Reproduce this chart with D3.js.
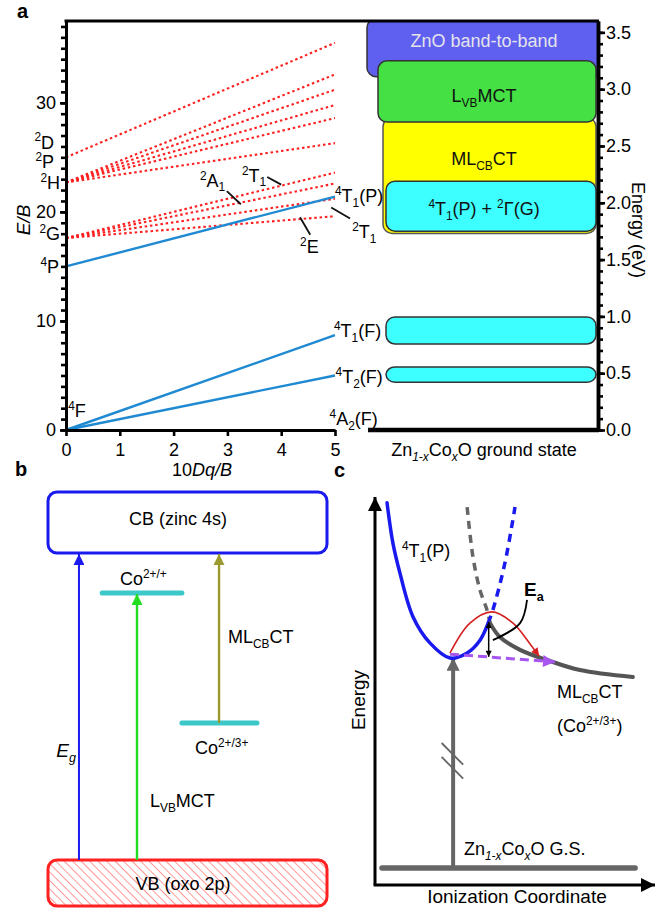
<!DOCTYPE html>
<html>
<head>
<meta charset="utf-8">
<script src="https://cdn.jsdelivr.net/npm/d3@7"></script>
<style>
  html, body { margin: 0; padding: 0; background: #fff; }
  svg text { font-family: "Liberation Sans", Arial, Helvetica, sans-serif; }
</style>
</head>
<body>
<svg id="fig" width="658" height="909"></svg>
<script>
// ---------- panel a : Tanabe-Sugano style diagram ----------
var dqRange = [0, 5];
// quartet states (blue, solid), E/B at 10Dq/B = 0 and 5
var quartetLines = [[15.0, 21.4], [0, 8.7], [0, 5.0]];
// doublet states (red, dotted)
var doubletLines = [
    [25.0, 35.5], [22.7, 32.6], [22.7, 31.2], [22.7, 29.8], [22.7, 28.6],
    [22.7, 26.3], [17.6, 23.6], [17.6, 22.6], [17.6, 21.2], [17.6, 19.6]
];
var freeIonTerms = ["^{4}P", "^{2}G", "^{2}H", "^{2}P", "^{2}D"];
var freeIonEnergies = [15.0, 18.0, 22.7, 24.6, 26.4];
var yTicksEB = [0, 10, 20, 30];
var xTicksDq = [0, 1, 2, 3, 4, 5];

// right side: absorption bands in eV
var bandNames = ["ZnO band-to-band", "L_{VB}MCT", "ML_{CB}CT", "^{4}T_{1}(P) + ^{2}\u0393(G)", "", ""];
var bandLow = [3.11, 2.71, 1.73, 1.75, 0.757, 0.42];
var bandHigh = [3.62, 3.25, 2.75, 2.19, 0.995, 0.555];
var bandColors = ["#5f5ff0", "#44e044", "#ffff00", "#3dffff", "#3dffff", "#3dffff"];
var energyTicks = [0, 0.5, 1.0, 1.5, 2.0, 2.5, 3.0, 3.5];

// ---------- panel b : energy levels ----------
var levelNames = ["Co^{2+/+}", "Co^{2+/3+}"];
var levelEnergies = [87, 44.6];          // relative: VB top = 0, CB bottom = 100
var transitionNames = ["*{E}_*{g}", "L_{VB}MCT", "ML_{CB}CT"];
var transitionFrom = [0, 0, 44.6];
var transitionTo = [100, 87, 100];

// ---------- panel c : configuration coordinate sketch ----------
var curveT1P = [[4.3, 98.5], [6.4, 88.1], [8.9, 80.4], [13.6, 69.1], [19.6, 62.4], [26.8, 58.5],
                [32.9, 59.8], [37.5, 63.1], [40.4, 67.5]];
var curveT1PDashed = [[40.4, 67.5], [42.1, 70.9], [46.4, 83.0], [50.0, 97.4]];
var curveCTDashed = [[32.9, 97.4], [35.0, 84.5], [37.5, 76.0], [40.0, 70.9], [41.1, 67.5]];
var curveCT = [[41.1, 67.5], [44.6, 63.9], [51.8, 60.6], [61.4, 58.0], [73.2, 55.4], [92.1, 53.6]];
var hopPath = [[26.8, 59.8], [33.9, 67.5], [41.8, 70.4], [49.3, 67.5], [55.5, 62.0], [58.6, 59.0]];
var tunnelPath = [[26.8, 59.5], [64.3, 57.5]];
var barrier = [[40.6, 67.8], [40.6, 58.8]];
var eaLeader = [[54.3, 73.5], [51.8, 67.5], [42.1, 63.1]];
var breakMarks = [[[23.8, 36.6], [31.5, 31.0]], [[23.8, 33.0], [31.5, 27.4]]];
var groundState = [[2.5, 4.4], [92.9, 4.4]];
var excitation = [[27.9, 4.4], [27.9, 58.6]];

var svg = d3.select("#fig");
var defs = svg.append("defs");

// small markup: ^{sup} _{sub} _*{italic sub} *{italic}
function rich(sel, str, size) {
    var t = sel.append("text").attr("font-size", size);
    var re = /(\^|_\*|_|\*)\{([^}]*)\}|([^\^_*]+)/g, m, shift = 0;
    while ((m = re.exec(str))) {
        var ts = t.append("tspan"), target = 0;
        if (m[3]) {
            ts.text(m[3]);
        } else {
            ts.text(m[2]);
            if (m[1] === "*") {
                ts.attr("font-style", "italic");
            } else {
                ts.attr("font-size", size * 0.66);
                target = m[1] === "^" ? -size * 0.4 : size * 0.25;
                if (m[1] === "_*") ts.attr("font-style", "italic");
            }
        }
        if (target - shift !== 0) ts.attr("dy", target - shift);
        shift = target;
    }
    return t;
}

function marker(id, color, w, h, orient) {
    defs.append("marker")
        .attr("id", id)
        .attr("viewBox", "0 0 10 10")
        .attr("refX", 10).attr("refY", 5)
        .attr("markerUnits", "userSpaceOnUse")
        .attr("markerWidth", w).attr("markerHeight", h)
        .attr("orient", orient || "auto")
        .append("path").attr("d", "M0,0L10,5L0,10z").attr("fill", color);
}
marker("arBlue", "#1a1aee", 11, 11);
marker("arGreen", "#22dd22", 11, 11);
marker("arOlive", "#9a9a30", 11, 11);
marker("arBlack", "#000", 17, 14);
marker("arGray", "#666", 14, 13);
marker("arRed", "#d42020", 10, 8);
marker("arPurple", "#a855f0", 18, 12);
marker("arSmall", "#000", 7, 6, "auto-start-reverse");

function styleAxis(g, lw) {
    g.attr("font-size", 18).attr("font-family", null);
    g.select(".domain").attr("stroke-width", lw);
    g.selectAll(".tick line").attr("stroke-width", 2.6);
    g.selectAll(".tick text").attr("fill", "#000");
}

// ================= panel a =================
var xA = d3.scaleLinear().domain(dqRange).range([66, 335]);
var yA = d3.scaleLinear().domain([0, 37.5]).range([430, 21]);
var yE = d3.scaleLinear().domain([0, 3.6]).range([430, 21]);
var gA = svg.append("g");

var lineA = d3.line().x(function (d, i) { return xA(dqRange[i]); }).y(function (d) { return yA(d); });

gA.selectAll(".doublet").data(doubletLines).join("path")
    .attr("class", "doublet")
    .attr("d", lineA)
    .attr("fill", "none").attr("stroke", "#ff1f1f")
    .attr("stroke-width", 2.1).attr("stroke-dasharray", "2.5,2.8");

gA.selectAll(".quartet").data(quartetLines).join("path")
    .attr("class", "quartet")
    .attr("d", lineA)
    .attr("fill", "none").attr("stroke", "#1f8ad2").attr("stroke-width", 2.4);

// band boxes
var bandLeft = [367, 378, 383, 386, 386, 386];
var bandRight = [610, 596, 596, 596, 596, 596];
defs.append("clipPath").attr("id", "clipR")
    .append("rect").attr("x", 300).attr("y", 21).attr("width", 297).attr("height", 420);
var gB = gA.append("g").attr("clip-path", "url(#clipR)");
var drawOrder = [0, 2, 1, 3, 4, 5];
drawOrder.forEach(function (i) {
    gB.append("rect")
        .attr("x", bandLeft[i]).attr("y", yE(bandHigh[i]))
        .attr("width", bandRight[i] - bandLeft[i])
        .attr("height", yE(bandLow[i]) - yE(bandHigh[i]))
        .attr("rx", 9)
        .attr("fill", bandColors[i])
        .attr("stroke", i === 2 ? "#555" : "#333").attr("stroke-width", 1.5);
});
var bandTextY = [47, 102, 165, 215];
[0, 1, 2, 3].forEach(function (i) {
    rich(gA, bandNames[i], 18)
        .attr("x", 484).attr("y", bandTextY[i])
        .attr("text-anchor", "middle")
        .attr("fill", i === 0 ? "#e4e4ea" : "#111");
});

// axes
var axL = gA.append("g").attr("transform", "translate(66,0)");
axL.call(d3.axisLeft(yA).tickValues(d3.range(0, 38)).tickSize(5).tickSizeOuter(0).tickFormat(""));
styleAxis(axL, 3);
var axL2 = gA.append("g").attr("transform", "translate(66,0)");
axL2.call(d3.axisLeft(yA).tickValues(yTicksEB).tickSize(6).tickPadding(4).tickSizeOuter(0)
    .tickFormat(d3.format("d")));
styleAxis(axL2, 3);

var axB = gA.append("g").attr("transform", "translate(0,430)");
axB.call(d3.axisBottom(xA).tickValues(xTicksDq).tickSize(6).tickPadding(7).tickSizeOuter(0)
    .tickFormat(d3.format("d")));
styleAxis(axB, 3);

var axR = gA.append("g").attr("transform", "translate(598,0)");
axR.call(d3.axisRight(yE).tickValues(d3.range(0, 36).map(function (d) { return d / 10; }))
    .tickSize(5).tickSizeOuter(0).tickFormat(""));
styleAxis(axR, 3.5);
var axR2 = gA.append("g").attr("transform", "translate(598,0)");
axR2.call(d3.axisRight(yE).tickValues(energyTicks).tickSize(7).tickPadding(1)
    .tickSizeOuter(0).tickFormat(d3.format(".1f")));
styleAxis(axR2, 3.5);

gA.append("line").attr("x1", 64.5).attr("x2", 599).attr("y1", 21).attr("y2", 21)
    .attr("stroke", "#000").attr("stroke-width", 3);
gA.append("line").attr("x1", 368).attr("x2", 599).attr("y1", 430).attr("y2", 430)
    .attr("stroke", "#000").attr("stroke-width", 4.5);

// free-ion terms along the E/B axis
var termX = [59, 60, 60, 54, 54];
freeIonTerms.forEach(function (t, i) {
    rich(gA, t, 18).attr("x", termX[i]).attr("y", yA(freeIonEnergies[i]) + 6.5)
        .attr("text-anchor", "end");
});

// state labels and leaders (10Dq/B, E/B)
var stateLabels = [
    {t: "^{4}T_{1}(P)", x: 5.0, e: 20.9},
    {t: "^{4}T_{1}(F)", x: 4.98, e: 8.5},
    {t: "^{4}T_{2}(F)", x: 5.01, e: 4.3},
    {t: "^{4}A_{2}(F)", x: 4.9, e: 0.45},
    {t: "^{4}F", x: 0.04, e: 1.2},
    {t: "^{2}A_{1}", x: 2.49, e: 22.3},
    {t: "^{2}T_{1}", x: 3.27, e: 22.75},
    {t: "^{2}E", x: 4.35, e: 16.2},
    {t: "^{2}T_{1}", x: 5.32, e: 17.6}
];
stateLabels.forEach(function (s) {
    rich(gA, s.t, 18).attr("x", xA(s.x)).attr("y", yA(s.e));
});
var leaders = [
    [[2.99, 21.9], [3.25, 20.7]],
    [[3.74, 23.2], [4.0, 22.5]],
    [[4.35, 19.5], [4.54, 17.9]],
    [[4.93, 20.4], [5.28, 19.4]]
];
gA.selectAll(".leader").data(leaders).join("line")
    .attr("x1", function (d) { return xA(d[0][0]); }).attr("y1", function (d) { return yA(d[0][1]); })
    .attr("x2", function (d) { return xA(d[1][0]); }).attr("y2", function (d) { return yA(d[1][1]); })
    .attr("stroke", "#111").attr("stroke-width", 1.8);

rich(gA, "*{E/B}", 19).attr("transform", "translate(30,220) rotate(-90)").attr("text-anchor", "middle");
rich(gA, "10*{Dq/B}", 18).attr("x", 202).attr("y", 476).attr("text-anchor", "middle");
rich(gA, "Zn_*{1-x}Co_*{x}O ground state", 18).attr("x", 484).attr("y", 456).attr("text-anchor", "middle");
rich(gA, "Energy (eV)", 18).attr("transform", "translate(632,230) rotate(90)").attr("text-anchor", "middle");

// ================= panel b =================
var xB = d3.scaleLinear().domain([0, 100]).range([48, 327]);
var yB = d3.scaleLinear().domain([0, 100]).range([860, 553]);
var gBp = svg.append("g");

var hatch = defs.append("pattern").attr("id", "hatch")
    .attr("patternUnits", "userSpaceOnUse").attr("width", 6).attr("height", 6)
    .attr("patternTransform", "rotate(-45)");
hatch.append("line").attr("x1", 0).attr("x2", 0).attr("y1", 0).attr("y2", 6)
    .attr("stroke", "#ff4040").attr("stroke-width", 1.1);

gBp.append("rect").attr("x", xB(0)).attr("y", yB(100) - 61).attr("width", xB(100) - xB(0)).attr("height", 61)
    .attr("rx", 9).attr("fill", "#fff").attr("stroke", "#1a1aee").attr("stroke-width", 3);
gBp.append("rect").attr("x", xB(0)).attr("y", yB(0)).attr("width", xB(100) - xB(0)).attr("height", 46)
    .attr("rx", 9).attr("fill", "url(#hatch)").attr("stroke", "#ff2020").attr("stroke-width", 3);
rich(gBp, "CB (zinc 4s)", 18).attr("x", 178).attr("y", 525).attr("text-anchor", "middle");
rich(gBp, "VB (oxo 2p)", 18).attr("x", 183).attr("y", 890).attr("text-anchor", "middle");

var levelX = [[19.4, 48], [48, 74.9]];
levelEnergies.forEach(function (e, i) {
    gBp.append("line").attr("x1", xB(levelX[i][0])).attr("x2", xB(levelX[i][1]))
        .attr("y1", yB(e)).attr("y2", yB(e))
        .attr("stroke", "#3cc8c8").attr("stroke-width", 5).attr("stroke-linecap", "round");
});
rich(gBp, levelNames[0], 18).attr("x", 120).attr("y", 585);
rich(gBp, levelNames[1], 18).attr("x", 195).attr("y", 754);

var transX = [11.1, 31.9, 61.3];
var transColor = ["#1a1aee", "#22dd22", "#9a9a30"];
var transMarker = ["arBlue", "arGreen", "arOlive"];
transitionFrom.forEach(function (f, i) {
    gBp.append("line").attr("x1", xB(transX[i])).attr("x2", xB(transX[i]))
        .attr("y1", yB(f)).attr("y2", yB(transitionTo[i]) + 1)
        .attr("stroke", transColor[i]).attr("stroke-width", i === 0 ? 2 : 2.4)
        .attr("marker-end", "url(#" + transMarker[i] + ")");
});
rich(gBp, transitionNames[0], 19).attr("x", 76).attr("y", 757).attr("text-anchor", "end");
rich(gBp, transitionNames[1], 18).attr("x", 150).attr("y", 807);
rich(gBp, transitionNames[2], 18).attr("x", 228).attr("y", 643);

// ================= panel c =================
var xC = d3.scaleLinear().domain([0, 100]).range([375, 655]);
var yC = d3.scaleLinear().domain([0, 100]).range([885, 497]);
var gC = svg.append("g");
var smooth = d3.line().x(function (d) { return xC(d[0]); }).y(function (d) { return yC(d[1]); })
    .curve(d3.curveCatmullRom.alpha(0.5));
var straight = d3.line().x(function (d) { return xC(d[0]); }).y(function (d) { return yC(d[1]); });

gC.append("path").attr("d", straight([[0, 0], [0, 100]])).attr("stroke", "#000")
    .attr("stroke-width", 3).attr("marker-end", "url(#arBlack)");
gC.append("path").attr("d", straight([[-0.5, 0], [100, 0]])).attr("stroke", "#000")
    .attr("stroke-width", 3).attr("marker-end", "url(#arBlack)");

gC.append("path").attr("d", straight(groundState)).attr("stroke", "#666")
    .attr("stroke-width", 5.5).attr("stroke-linecap", "round");
gC.append("path").attr("d", straight(excitation)).attr("stroke", "#666")
    .attr("stroke-width", 4).attr("marker-end", "url(#arGray)");
// break marks on the excitation arrow
gC.selectAll(".brk").data(breakMarks).join("path")
    .attr("class", "brk").attr("d", straight)
    .attr("stroke", "#666").attr("stroke-width", 1.8);

gC.append("path").attr("d", smooth(curveCTDashed)).attr("fill", "none").attr("stroke", "#666")
    .attr("stroke-width", 3.5).attr("stroke-dasharray", "8,6");
gC.append("path").attr("d", smooth(curveT1PDashed)).attr("fill", "none").attr("stroke", "#1a1aee")
    .attr("stroke-width", 3.5).attr("stroke-dasharray", "8,6");
gC.append("path").attr("d", smooth(curveCT)).attr("fill", "none").attr("stroke", "#555")
    .attr("stroke-width", 4).attr("stroke-linecap", "round");
gC.append("path").attr("d", smooth(curveT1P)).attr("fill", "none").attr("stroke", "#1a1aee")
    .attr("stroke-width", 3.5).attr("stroke-linecap", "round");

gC.append("path").attr("d", straight(tunnelPath)).attr("fill", "none").attr("stroke", "#a855f0")
    .attr("stroke-width", 3).attr("stroke-dasharray", "9,5").attr("marker-end", "url(#arPurple)");
gC.append("path").attr("d", smooth(hopPath)).attr("fill", "none").attr("stroke", "#d42020")
    .attr("stroke-width", 1.6).attr("marker-end", "url(#arRed)");
gC.append("path").attr("d", straight(barrier)).attr("stroke", "#000").attr("stroke-width", 1.5)
    .attr("marker-start", "url(#arSmall)").attr("marker-end", "url(#arSmall)");
gC.append("path").attr("d", smooth(eaLeader)).attr("fill", "none").attr("stroke", "#000")
    .attr("stroke-width", 1.8);

rich(gC, "^{4}T_{1}(P)", 18).attr("x", 402).attr("y", 557);
rich(gC, "E_{a}", 19).attr("x", 524).attr("y", 596).attr("font-weight", "bold");
rich(gC, "ML_{CB}CT", 18).attr("x", 557).attr("y", 698);
rich(gC, "(Co^{2+/3+})", 18).attr("x", 557).attr("y", 732);
rich(gC, "Zn_*{1-x}Co_*{x}O G.S.", 18).attr("x", 464).attr("y", 855);
rich(gC, "Energy", 19).attr("transform", "translate(365,700) rotate(-90)").attr("text-anchor", "middle");
rich(gC, "Ionization Coordinate", 19).attr("x", 517).attr("y", 903).attr("text-anchor", "middle");

// panel letters
[["a", 17, 18], ["b", 15, 476], ["c", 334, 477]].forEach(function (p) {
    svg.append("text").text(p[0]).attr("x", p[1]).attr("y", p[2])
        .attr("font-size", 20).attr("font-weight", "bold");
});
</script>
</body>
</html>
